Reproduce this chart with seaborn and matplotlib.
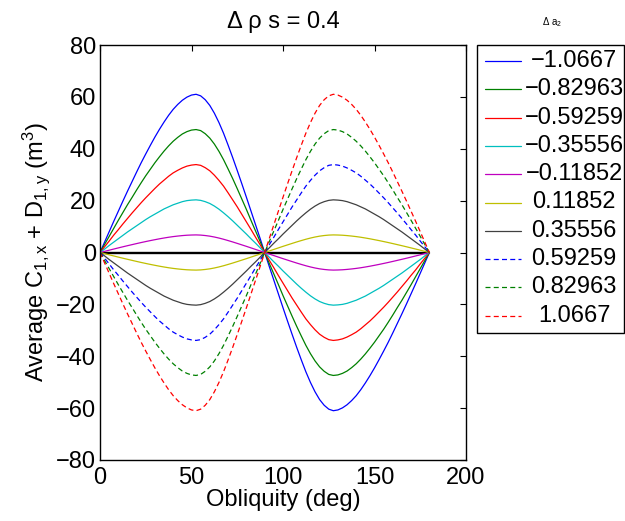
import matplotlib
matplotlib.use("Agg")
import matplotlib.pyplot as plt
import seaborn as sns
import pandas as pd
from matplotlib.lines import Line2D
from matplotlib.patches import Rectangle

# ---------------- data ----------------
obliquity = [0, 2.5, 5, 7.5, 10, 12.5, 15, 17.5, 20, 22.5, 25, 27.5, 30, 32.5, 35, 37.5, 40, 42.5, 45,
             47.5, 50, 52.5, 55, 57.5, 60, 62.5, 65, 67.5, 70, 72.5, 75, 77.5, 80, 82.5, 85, 87.5, 90,
             92.5, 95, 97.5, 100, 102.5, 105, 107.5, 110, 112.5, 115, 117.5, 120, 122.5, 125, 127.5,
             130, 132.5, 135, 137.5, 140, 142.5, 145, 147.5, 150, 152.5, 155, 157.5, 160, 162.5, 165,
             167.5, 170, 172.5, 175, 177.5, 180]

a2_labels = ["\u22121.0667", "\u22120.82963", "\u22120.59259", "\u22120.35556", "\u22120.11852",
             "0.11852", "0.35556", "0.59259", "0.82963", "1.0667"]

s_m1_0667 = [0, 4.0, 8.0, 12.0, 15.9, 19.8, 23.6, 27.3, 31.0, 34.6, 38.0, 41.3, 44.5, 47.5, 50.3, 52.9, 55.2, 57.1, 58.7,
             59.9, 60.7, 61.0, 60.4, 58.9, 56.7, 53.7, 50.1, 46.0, 41.4, 36.6, 31.6, 26.5, 21.3, 16.0, 10.7, 5.4, 0,
             -5.4, -10.7, -16.0, -21.3, -26.5, -31.6, -36.6, -41.4, -46.0, -50.1, -53.7, -56.7, -58.9, -60.4, -61.0,
             -60.7, -59.9, -58.7, -57.1, -55.2, -52.9, -50.3, -47.5, -44.5, -41.3, -38.0, -34.6, -31.0, -27.3, -23.6,
             -19.8, -15.9, -12.0, -8.0, -4.0, 0]
s_m0_82963 = [0, 3.1, 6.2, 9.3, 12.4, 15.4, 18.4, 21.2, 24.1, 26.9, 29.6, 32.1, 34.6, 36.9, 39.1, 41.1, 42.9, 44.4, 45.7,
              46.6, 47.2, 47.4, 47.0, 45.8, 44.1, 41.8, 39.0, 35.8, 32.2, 28.5, 24.6, 20.6, 16.6, 12.4, 8.3, 4.2, 0,
              -4.2, -8.3, -12.4, -16.6, -20.6, -24.6, -28.5, -32.2, -35.8, -39.0, -41.8, -44.1, -45.8, -47.0, -47.4,
              -47.2, -46.6, -45.7, -44.4, -42.9, -41.1, -39.1, -36.9, -34.6, -32.1, -29.6, -26.9, -24.1, -21.2, -18.4,
              -15.4, -12.4, -9.3, -6.2, -3.1, 0]
s_m0_59259 = [0, 2.2, 4.4, 6.7, 8.8, 11.0, 13.1, 15.2, 17.2, 19.2, 21.1, 22.9, 24.7, 26.4, 27.9, 29.4, 30.7, 31.7, 32.6,
              33.3, 33.7, 33.9, 33.6, 32.7, 31.5, 29.8, 27.8, 25.6, 23.0, 20.3, 17.6, 14.7, 11.8, 8.9, 5.9, 3.0, 0,
              -3.0, -5.9, -8.9, -11.8, -14.7, -17.6, -20.3, -23.0, -25.6, -27.8, -29.8, -31.5, -32.7, -33.6, -33.9,
              -33.7, -33.3, -32.6, -31.7, -30.7, -29.4, -27.9, -26.4, -24.7, -22.9, -21.1, -19.2, -17.2, -15.2, -13.1,
              -11.0, -8.8, -6.7, -4.4, -2.2, 0]
s_m0_35556 = [0, 1.3, 2.7, 4.0, 5.3, 6.6, 7.9, 9.1, 10.3, 11.5, 12.7, 13.8, 14.8, 15.8, 16.8, 17.6, 18.4, 19.0, 19.6,
              20.0, 20.2, 20.3, 20.1, 19.6, 18.9, 17.9, 16.7, 15.3, 13.8, 12.2, 10.5, 8.8, 7.1, 5.3, 3.6, 1.8, 0,
              -1.8, -3.6, -5.3, -7.1, -8.8, -10.5, -12.2, -13.8, -15.3, -16.7, -17.9, -18.9, -19.6, -20.1, -20.3,
              -20.2, -20.0, -19.6, -19.0, -18.4, -17.6, -16.8, -15.8, -14.8, -13.8, -12.7, -11.5, -10.3, -9.1, -7.9,
              -6.6, -5.3, -4.0, -2.7, -1.3, 0]
s_m0_11852 = [0, 0.44, 0.89, 1.33, 1.77, 2.2, 2.62, 3.03, 3.44, 3.84, 4.22, 4.59, 4.94, 5.28, 5.59, 5.88, 6.13, 6.34, 6.52,
              6.66, 6.74, 6.78, 6.71, 6.54, 6.3, 5.97, 5.57, 5.11, 4.6, 4.07, 3.51, 2.94, 2.37, 1.78, 1.19, 0.6, 0,
              -0.6, -1.19, -1.78, -2.37, -2.94, -3.51, -4.07, -4.6, -5.11, -5.57, -5.97, -6.3, -6.54, -6.71, -6.78,
              -6.74, -6.66, -6.52, -6.34, -6.13, -5.88, -5.59, -5.28, -4.94, -4.59, -4.22, -3.84, -3.44, -3.03, -2.62,
              -2.2, -1.77, -1.33, -0.89, -0.44, 0]
s_p0_11852 = [0, -0.44, -0.89, -1.33, -1.77, -2.2, -2.62, -3.03, -3.44, -3.84, -4.22, -4.59, -4.94, -5.28, -5.59, -5.88, -6.13, -6.34, -6.52,
              -6.66, -6.74, -6.78, -6.71, -6.54, -6.3, -5.97, -5.57, -5.11, -4.6, -4.07, -3.51, -2.94, -2.37, -1.78, -1.19, -0.6, 0,
              0.6, 1.19, 1.78, 2.37, 2.94, 3.51, 4.07, 4.6, 5.11, 5.57, 5.97, 6.3, 6.54, 6.71, 6.78,
              6.74, 6.66, 6.52, 6.34, 6.13, 5.88, 5.59, 5.28, 4.94, 4.59, 4.22, 3.84, 3.44, 3.03, 2.62,
              2.2, 1.77, 1.33, 0.89, 0.44, 0]
s_p0_35556 = [0, -1.3, -2.7, -4.0, -5.3, -6.6, -7.9, -9.1, -10.3, -11.5, -12.7, -13.8, -14.8, -15.8, -16.8, -17.6, -18.4, -19.0, -19.6,
              -20.0, -20.2, -20.3, -20.1, -19.6, -18.9, -17.9, -16.7, -15.3, -13.8, -12.2, -10.5, -8.8, -7.1, -5.3, -3.6, -1.8, 0,
              1.8, 3.6, 5.3, 7.1, 8.8, 10.5, 12.2, 13.8, 15.3, 16.7, 17.9, 18.9, 19.6, 20.1, 20.3,
              20.2, 20.0, 19.6, 19.0, 18.4, 17.6, 16.8, 15.8, 14.8, 13.8, 12.7, 11.5, 10.3, 9.1, 7.9,
              6.6, 5.3, 4.0, 2.7, 1.3, 0]
s_p0_59259 = [0, -2.2, -4.4, -6.7, -8.8, -11.0, -13.1, -15.2, -17.2, -19.2, -21.1, -22.9, -24.7, -26.4, -27.9, -29.4, -30.7, -31.7, -32.6,
              -33.3, -33.7, -33.9, -33.6, -32.7, -31.5, -29.8, -27.8, -25.6, -23.0, -20.3, -17.6, -14.7, -11.8, -8.9, -5.9, -3.0, 0,
              3.0, 5.9, 8.9, 11.8, 14.7, 17.6, 20.3, 23.0, 25.6, 27.8, 29.8, 31.5, 32.7, 33.6, 33.9,
              33.7, 33.3, 32.6, 31.7, 30.7, 29.4, 27.9, 26.4, 24.7, 22.9, 21.1, 19.2, 17.2, 15.2, 13.1,
              11.0, 8.8, 6.7, 4.4, 2.2, 0]
s_p0_82963 = [0, -3.1, -6.2, -9.3, -12.4, -15.4, -18.4, -21.2, -24.1, -26.9, -29.6, -32.1, -34.6, -36.9, -39.1, -41.1, -42.9, -44.4, -45.7,
              -46.6, -47.2, -47.4, -47.0, -45.8, -44.1, -41.8, -39.0, -35.8, -32.2, -28.5, -24.6, -20.6, -16.6, -12.4, -8.3, -4.2, 0,
              4.2, 8.3, 12.4, 16.6, 20.6, 24.6, 28.5, 32.2, 35.8, 39.0, 41.8, 44.1, 45.8, 47.0, 47.4,
              47.2, 46.6, 45.7, 44.4, 42.9, 41.1, 39.1, 36.9, 34.6, 32.1, 29.6, 26.9, 24.1, 21.2, 18.4,
              15.4, 12.4, 9.3, 6.2, 3.1, 0]
s_p1_0667 = [0, -4.0, -8.0, -12.0, -15.9, -19.8, -23.6, -27.3, -31.0, -34.6, -38.0, -41.3, -44.5, -47.5, -50.3, -52.9, -55.2, -57.1, -58.7,
             -59.9, -60.7, -61.0, -60.4, -58.9, -56.7, -53.7, -50.1, -46.0, -41.4, -36.6, -31.6, -26.5, -21.3, -16.0, -10.7, -5.4, 0,
             5.4, 10.7, 16.0, 21.3, 26.5, 31.6, 36.6, 41.4, 46.0, 50.1, 53.7, 56.7, 58.9, 60.4, 61.0,
             60.7, 59.9, 58.7, 57.1, 55.2, 52.9, 50.3, 47.5, 44.5, 41.3, 38.0, 34.6, 31.0, 27.3, 23.6,
             19.8, 15.9, 12.0, 8.0, 4.0, 0]

zero_x = [0, 180]
zero_y = [0, 0]

x_ticks = [0, 50, 100, 150, 200]
y_ticks = [-80, -60, -40, -20, 0, 20, 40, 60, 80]

series = [s_m1_0667, s_m0_82963, s_m0_59259, s_m0_35556, s_m0_11852,
          s_p0_11852, s_p0_35556, s_p0_59259, s_p0_82963, s_p1_0667]

# ---------------- styles ----------------
colors = [(0, 0, 1), (0, 0.5, 0), (1, 0, 0), (0, 0.75, 0.75), (0.75, 0, 0.75),
          (0.75, 0.75, 0), (0.25, 0.25, 0.25), (0, 0, 1), (0, 0.5, 0), (1, 0, 0)]
dashed = [False] * 7 + [True] * 3
DASH = (4.0, 2.6)
LW = 0.9

sns.set_style("white")
plt.rcParams["font.family"] = ["Liberation Sans", "DejaVu Sans"]
plt.rcParams["mathtext.fontset"] = "custom"
plt.rcParams["mathtext.rm"] = "Liberation Sans"
plt.rcParams["mathtext.it"] = "Liberation Sans:italic"
plt.rcParams["axes.unicode_minus"] = True
plt.rcParams["text.color"] = "black"
plt.rcParams["axes.labelcolor"] = "black"
plt.rcParams["xtick.color"] = "black"
plt.rcParams["ytick.color"] = "black"

FS = 17
fig = plt.figure(figsize=(6.25, 5.21), dpi=100)
ax = fig.add_axes([100 / 625, 1 - 460 / 521, (466 - 100) / 625, (460 - 45) / 521])

sns.lineplot(x=zero_x, y=zero_y, ax=ax, color="black", lw=1.7, estimator=None, sort=False)

for vals, col, dsh in zip(series, colors, dashed):
    df = pd.DataFrame({"obliquity": obliquity, "value": vals})
    line_ax = sns.lineplot(data=df, x="obliquity", y="value", ax=ax, color=col, lw=LW,
                           estimator=None, sort=False)
    if dsh:
        line_ax.lines[-1].set_dashes(DASH)

ax.set_xlim(0, 200)
ax.set_ylim(-80, 80)
ax.set_xticks(x_ticks)
ax.set_yticks(y_ticks)
ax.tick_params(direction="in", length=4.5, width=0.8, top=True, right=True,
               labelsize=FS, colors="black")
ax.tick_params(axis="x", pad=5)
ax.tick_params(axis="y", pad=3)
for sp in ax.spines.values():
    sp.set_visible(True)
    sp.set_color("black")
    sp.set_linewidth(1.0)

ax.set_xlabel("Obliquity (deg)", fontsize=FS, labelpad=0)
ax.set_ylabel(r"Average C$_{\mathregular{1,x}}$ + D$_{\mathregular{1,y}}$ (m$^{\mathregular{3}}$)",
              fontsize=FS, labelpad=3)
ax.set_title("\u0394 \u03c1 s = 0.4", fontsize=FS, pad=12)

# ---------------- legend (drawn by hand, MATLAB style) ----------------
W, H = 625.0, 521.0
box = Rectangle((477 / W, 1 - 333 / H), (624 - 477) / W, (333 - 45) / H,
                transform=fig.transFigure, facecolor="white", edgecolor="black", lw=1.0)
fig.add_artist(box)
row0, step = 61.0, 28.3
for i, (lab, col, dsh) in enumerate(zip(a2_labels, colors, dashed)):
    yy = 1 - (row0 + i * step) / H
    ln = Line2D([485 / W, 521 / W], [yy, yy], transform=fig.transFigure, color=col, lw=LW)
    if dsh:
        ln.set_dashes(DASH)
    fig.add_artist(ln)
    fig.text(574 / W, yy, lab, ha="center", va="center", fontsize=FS)

fig.text(552 / W, 1 - 22 / H, r"$\Delta$ a$_{\mathregular{2}}$", ha="center", va="center", fontsize=7)

fig.savefig("out.png", dpi=100)
